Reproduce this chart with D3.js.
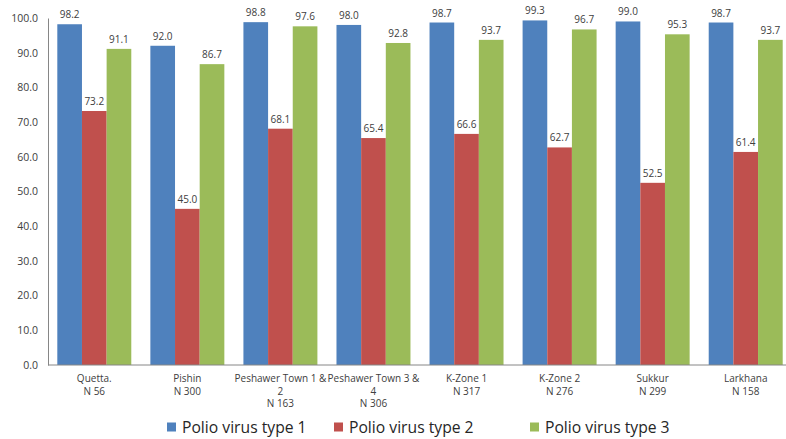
<!DOCTYPE html>
<html>
<head>
<meta charset="utf-8">
<script src="https://cdn.jsdelivr.net/npm/d3@7/dist/d3.min.js"></script>
<style>
  body { margin: 0; background: #fff; }
  svg { display: block; font-family: "Open Sans", "Noto Sans", sans-serif; }
</style>
</head>
<body>
<svg id="chart" width="786" height="439"></svg>
<script>
// Sites (wrapped label lines) and sample sizes
const categories = [
  ["Quetta.", "N 56"],
  ["Pishin", "N 300"],
  ["Peshawer Town 1 &", "2", "N 163"],
  ["Peshawer Town 3 &", "4", "N 306"],
  ["K-Zone 1", "N 317"],
  ["K-Zone 2", "N 276"],
  ["Sukkur", "N 299"],
  ["Larkhana", "N 158"]
];
const seriesNames = ["Polio virus type 1", "Polio virus type 2", "Polio virus type 3"];
const type1 = [98.2, 92.0, 98.8, 98.0, 98.7, 99.3, 99.0, 98.7];
const type2 = [73.2, 45.0, 68.1, 65.4, 66.6, 62.7, 52.5, 61.4];
const type3 = [91.1, 86.7, 97.6, 92.8, 93.7, 96.7, 95.3, 93.7];
const yTicks = [0, 10, 20, 30, 40, 50, 60, 70, 80, 90, 100];
const colors = ["#4F81BD", "#C0504D", "#9BBB59"];

const series = [type1, type2, type3];
const svg = d3.select("#chart");

const plot = { left: 48, right: 792, top: 18, bottom: 365 };

const x0 = d3.scaleBand().domain(d3.range(categories.length)).range([plot.left, plot.right]).paddingInner(0.205).paddingOuter(0.1);
const x1 = d3.scaleBand().domain(d3.range(series.length)).range([0, x0.bandwidth()]);
const y = d3.scaleLinear().domain([0, 100]).range([plot.bottom, plot.top]);

// Bars
const groups = svg.append("g").selectAll("g")
  .data(categories.map((c, i) => i))
  .join("g")
  .attr("transform", i => `translate(${x0(i)},0)`);

groups.selectAll("rect")
  .data(i => series.map((s, k) => ({ k, v: s[i] })))
  .join("rect")
  .attr("x", d => x1(d.k))
  .attr("y", d => y(d.v))
  .attr("width", x1.bandwidth())
  .attr("height", d => y(0) - y(d.v))
  .attr("fill", d => colors[d.k]);

// Value labels
groups.selectAll("text")
  .data(i => series.map((s, k) => ({ k, v: s[i] })))
  .join("text")
  .attr("x", d => x1(d.k) + x1.bandwidth() / 2)
  .attr("y", d => y(d.v) - 6)
  .attr("text-anchor", "middle")
  .attr("font-size", 10)
  .attr("fill", "#404040")
  .text(d => d.v.toFixed(1));

// Y axis
const yAxis = svg.append("g")
  .attr("transform", `translate(${plot.left},0)`)
  .call(d3.axisLeft(y).tickValues(yTicks).tickSize(0).tickPadding(10).tickFormat(d3.format(".1f")));
yAxis.select(".domain").attr("stroke", "#868686");
yAxis.selectAll("text").attr("font-size", 10.5).attr("fill", "#404040").attr("font-family", "\"Open Sans\", sans-serif");

// X axis baseline
svg.append("line")
  .attr("x1", plot.left).attr("x2", 786)
  .attr("y1", y(0)).attr("y2", y(0))
  .attr("stroke", "#868686");

// Category labels
const catLabels = svg.append("g").selectAll("text")
  .data(categories)
  .join("text")
  .attr("text-anchor", "middle")
  .attr("font-size", 10)
  .attr("fill", "#404040")
  .attr("transform", (d, i) => `translate(${x0(i) + x0.bandwidth() / 2},${plot.bottom + 17})`);
catLabels.selectAll("tspan")
  .data(d => d)
  .join("tspan")
  .attr("x", 0)
  .attr("dy", (d, j) => j === 0 ? 0 : 12.5)
  .text(d => d);

// Legend
const legendX = [167, 334, 530];
const legend = svg.append("g").selectAll("g")
  .data(seriesNames)
  .join("g")
  .attr("transform", (d, i) => `translate(${legendX[i]},427)`);
legend.append("rect")
  .attr("x", 0).attr("y", -4.5).attr("width", 9).attr("height", 9)
  .attr("fill", (d, i) => colors[i]);
legend.append("text")
  .attr("x", 15).attr("y", 5.5)
  .attr("font-size", 15.7)
  .attr("fill", "#262626")
  .text(d => d);
</script>
</body>
</html>
